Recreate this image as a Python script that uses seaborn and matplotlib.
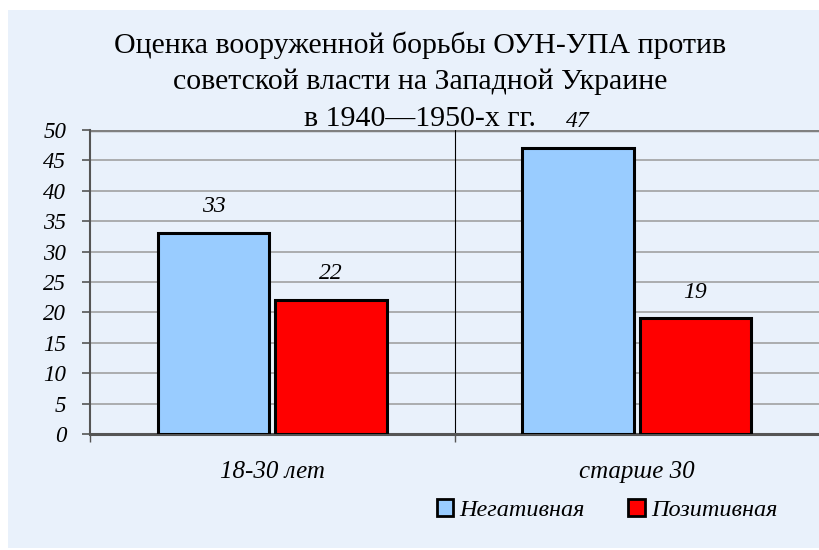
import numpy as np
import pandas as pd
import seaborn as sns
import matplotlib.pyplot as plt
from matplotlib.patches import Rectangle, Patch

# данные
groups = ["18-30 лет", "старше 30"]
series = ["Негативная", "Позитивная"]
negative = [33, 47]
positive = [22, 19]
yticks = list(range(0, 51, 5))
title_lines = ["Оценка вооруженной борьбы ОУН-УПА против",
               "советской власти на Западной Украине",
               "в 1940—1950-х гг."]

df = pd.DataFrame({
    "group": groups * 2,
    "series": [series[0]] * 2 + [series[1]] * 2,
    "value": negative + positive,
})

bg = "#e9f1fb"
serif = ["Liberation Serif", "DejaVu Serif"]

sns.set_style("white")
plt.rcParams["font.family"] = serif
plt.rcParams["text.color"] = "black"
plt.rcParams["xtick.color"] = "black"
plt.rcParams["ytick.color"] = "black"

fig = plt.figure(figsize=(8.19, 5.5), dpi=100, facecolor="white")
fig.patches.append(Rectangle((8 / 819, 2 / 550), 811 / 819, 538 / 550,
                             transform=fig.transFigure, facecolor=bg, edgecolor="none", zorder=-5))
ax = fig.add_axes([90 / 819, 116 / 550, 729 / 819, 304 / 550])
ax.set_facecolor(bg)

sns.barplot(data=df, x="group", y="value", hue="series", order=groups, hue_order=series,
            palette=["#99ccff", "#ff0000"], width=0.643, gap=0.05,
            edgecolor="black", linewidth=2.2, saturation=1, ax=ax, legend=False, zorder=3)

ax.set_xlim(-0.5, 1.5)
ax.set_ylim(0, 50)
ax.yaxis.grid(True, color="#9a9a9a", linewidth=1.1, zorder=1)
ax.axhline(50, color="#808080", linewidth=2.5, zorder=2)
ax.axvline(0.5, color="black", linewidth=0.8, zorder=2)
ax.set_xlabel("")
ax.set_ylabel("")

for s in ["top", "right"]:
    ax.spines[s].set_visible(False)
ax.spines["left"].set_color("#555555")
ax.spines["left"].set_linewidth(1.5)
ax.spines["bottom"].set_color("#555555")
ax.spines["bottom"].set_linewidth(2.2)

ax.set_yticks(yticks, [str(v) for v in yticks], fontstyle="italic", fontsize=16.5)
ax.tick_params(axis="y", left=True, length=6, width=1.2, color="#555555", pad=11)
ax.set_xticks([0, 1], groups, fontstyle="italic", fontsize=18)
ax.tick_params(axis="x", which="major", bottom=False, pad=16)
ax.set_xticks([-0.5, 0.5], minor=True)
ax.tick_params(axis="x", which="minor", bottom=True, length=6, width=1, color="#555555")

# подписи значений
for cont in ax.containers:
    for bar in cont:
        h = bar.get_height()
        ax.annotate(f"{h:.0f}", (bar.get_x() + bar.get_width() / 2, h), xytext=(0, 19),
                    textcoords="offset points", ha="center", va="center",
                    fontsize=17, fontstyle="italic", annotation_clip=False)

handles = [Patch(facecolor="#99ccff", edgecolor="black", linewidth=2),
           Patch(facecolor="#ff0000", edgecolor="black", linewidth=2)]
fig.legend(handles, series, loc="center", bbox_to_anchor=(607 / 819, 1 - 510 / 550), ncol=2,
           frameon=False, prop={"style": "italic", "size": 17.5}, handlelength=0.68, handleheight=0.68,
           handletextpad=0.25, columnspacing=1.8)

# заголовок по строкам
for k, line in enumerate(title_lines):
    fig.text(420 / 819, 1 - (45 + 37 * k) / 550, line, ha="center", va="center", fontsize=21.5)

fig.savefig("out.png", dpi=100, facecolor="white")
